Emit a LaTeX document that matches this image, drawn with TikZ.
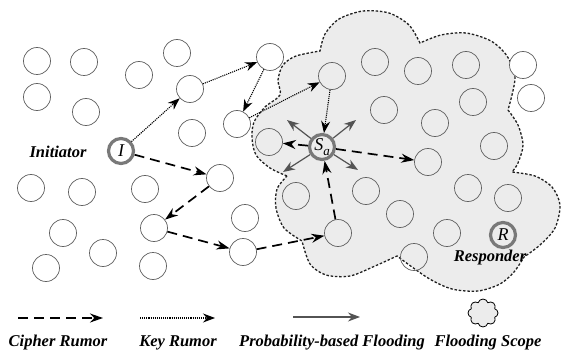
\documentclass[tikz,border=0pt]{standalone}
\usepackage{fontspec}
\setmainfont{Liberation Serif}
\usetikzlibrary{arrows.meta,shapes.symbols}

\tikzset{
  peer/.style={circle, draw=gray!75!black, fill=white, line width=0.7pt, minimum size=27pt, inner sep=0pt},
  zonepeer/.style={peer, fill=none},
  endpeer/.style={circle, draw=gray!95!black, fill=white, line width=3.2pt, minimum size=25pt, inner sep=0pt, font=\fontsize{18}{18}\selectfont\itshape},
  cipher/.style={line width=1.7pt, dash pattern=on 10pt off 6pt, -{Stealth[length=13pt,width=9pt]}},
  keyrumor/.style={line width=1.1pt, densely dotted, -{Stealth[length=12pt,width=9pt]}},
  flood/.style={line width=1.2pt, draw=gray!65!black, -{Stealth[length=12pt,width=9pt]}},
  floodzone/.style={fill=gray!15, draw=gray!25!black, line width=1.3pt, dash pattern=on 2.5pt off 1.8pt},
  lbl/.style={font=\fontsize{16.5}{16.5}\selectfont\bfseries\itshape}
}

\begin{document}
\begin{tikzpicture}[x=1pt,y=-1pt]

        \useasboundingbox (0,0) rectangle (562,350);

        % flooding scope
        \path[floodzone]
            plot[smooth] coordinates {(287,176) (270,168) (256,155) (252,138) (254,122) (265,107) (280,95) (278,80) (283,65) (296,56) (320,51)}
            -- plot[smooth] coordinates {(320,51) (325,34) (339,19) (363,11) (389,13) (409,25) (420,43)}
            -- plot[smooth] coordinates {(420,43) (441,35) (466,33) (491,41) (507,56) (515,78) (508,110)}
            -- plot[smooth] coordinates {(508,110) (518,125) (523,145) (518,163) (512,172)}
            -- plot[smooth] coordinates {(512,172) (535,176) (552,187) (560,205) (555,228) (540,245) (524,257)}
            -- plot[smooth] coordinates {(524,257) (514,272) (500,284) (478,291) (452,289) (428,278) (397,256)}
            -- plot[smooth] coordinates {(397,256) (375,266) (350,276) (326,275) (310,264) (302,241)}
            -- plot[smooth] coordinates {(302,241) (284,228) (276,208) (277,189) (287,176)}
            -- cycle;

        % peers
        \node[peer] (n1) at (37,61) {};
        \node[peer] (n2) at (84,62) {};
        \node[peer] (n3) at (139,75) {};
        \node[peer] (n4) at (177,53) {};
        \node[peer] (n5) at (37,97) {};
        \node[peer] (n6) at (86,112) {};
        \node[peer] (n7) at (192,133) {};
        \node[zonepeer] (n8) at (375,62) {};
        \node[zonepeer] (n9) at (418,71) {};
        \node[zonepeer] (n10) at (466,65) {};
        \node[peer] (n11) at (523,65) {};
        \node[peer] (n12) at (531,98) {};
        \node[zonepeer] (n13) at (384,110) {};
        \node[zonepeer] (n14) at (473,102) {};
        \node[zonepeer] (n15) at (435,123) {};
        \node[zonepeer] (n16) at (494,146) {};
        \node[peer] (n17) at (31,188) {};
        \node[peer] (n18) at (82,192) {};
        \node[peer] (n19) at (145,189) {};
        \node[peer] (n20) at (63,233) {};
        \node[peer] (n21) at (245,218) {};
        \node[peer] (n22) at (103,253) {};
        \node[peer] (n23) at (46,268) {};
        \node[peer] (n24) at (153,266) {};
        \node[zonepeer] (n25) at (296,196) {};
        \node[zonepeer] (n26) at (366,191) {};
        \node[zonepeer] (n27) at (400,214) {};
        \node[zonepeer] (n28) at (468,188) {};
        \node[zonepeer] (n29) at (508,198) {};
        \node[zonepeer] (n30) at (447,233) {};
        \node[zonepeer] (n31) at (414,257) {};

        \node[peer] (k1) at (190,89) {};
        \node[peer] (k2) at (270,57) {};
        \node[peer] (k3) at (237,124) {};
        \node[zonepeer] (k4) at (332,76) {};

        \node[peer] (c1) at (220,178) {};
        \node[peer] (c2) at (154,228) {};
        \node[peer] (c3) at (243,252) {};
        \node[zonepeer] (c4) at (338,233) {};
        \node[zonepeer] (c5) at (269,142) {};
        \node[zonepeer] (c6) at (428,162) {};

        \node[endpeer] (I) at (121,151) {I};
        \node[endpeer, fill=none] (S) at (322,147) {S\raisebox{-5pt}{\fontsize{13}{13}\selectfont a}};
        \node[endpeer, fill=none] (R) at (503,235) {R};

        \node[lbl] (init) at (58,152) {Initiator};
        \node[lbl] (resp) at (490,258) {Responder};

        % key rumor
        \draw[keyrumor] (I) -- (k1);
        \draw[keyrumor] (k1) -- (k2);
        \draw[keyrumor] (k2) -- (k3);
        \draw[keyrumor] (k3) -- (k4);
        \draw[keyrumor] (k4) -- (S);

        % cipher rumor
        \draw[cipher] (I) -- (c1);
        \draw[cipher] (c1) -- (c2);
        \draw[cipher] (c2) -- (c3);
        \draw[cipher] (c3) -- (c4);
        \draw[cipher] (c4) -- (S);
        \draw[cipher] (S) -- (c5);
        \draw[cipher] (S) -- (c6);

        % probability-based flooding
        \path (S) ++(-35,-27) coordinate (f1);
        \path (S) ++(34,-27) coordinate (f2);
        \path (S) ++(-39,25) coordinate (f3);
        \path (S) ++(36,23) coordinate (f4);
        \draw[flood] (S) -- (f1);
        \draw[flood] (S) -- (f2);
        \draw[flood] (S) -- (f3);
        \draw[flood] (S) -- (f4);

        % legend
        \coordinate (l1a) at (18,318);
        \coordinate (l1b) at (103,318);
        \coordinate (l2a) at (140,318);
        \coordinate (l2b) at (215,318);
        \coordinate (l3a) at (293,317);
        \coordinate (l3b) at (360,317);
        \draw[cipher] (l1a) -- (l1b);
        \draw[keyrumor] (l2a) -- (l2b);
        \draw[flood] (l3a) -- (l3b);
        \node[cloud, cloud puffs=8, aspect=1, draw=black, line width=0.8pt, fill=gray!15, minimum width=30pt, minimum height=28pt, inner sep=0pt] (icon) at (483,313) {};

        \node[lbl] (t1) at (58,343) {Cipher Rumor};
        \node[lbl] (t2) at (178,343) {Key Rumor};
        \node[lbl] (t3) at (332,343) {Probability-based Flooding};
        \node[lbl] (t4) at (488,343) {Flooding Scope};

\end{tikzpicture}
\end{document}
